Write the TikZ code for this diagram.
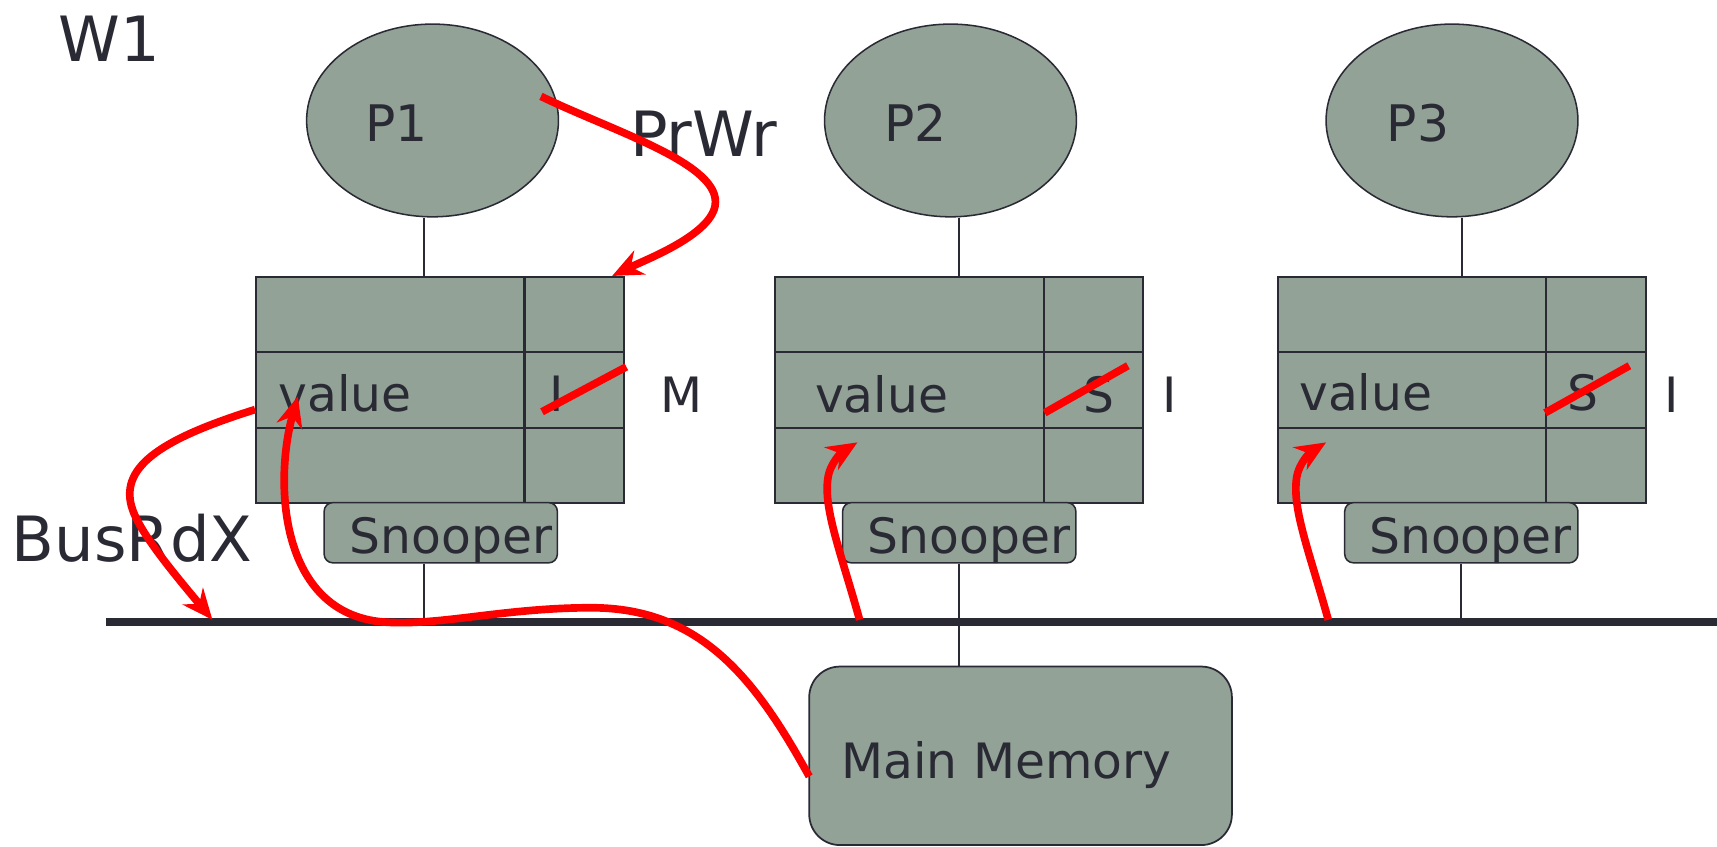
\documentclass[tikz,border=0pt]{standalone}
\usepackage{fontspec}
\setmainfont{DejaVu Sans}
\usetikzlibrary{shapes.geometric,arrows.meta,calc}
\definecolor{cachegray}{RGB}{146,162,151}
\definecolor{ink}{RGB}{42,42,53}
\tikzset{
	proc/.style={ellipse,fill=cachegray,draw=ink,line width=0.7pt,minimum width=115pt,minimum height=88pt,inner sep=0pt},
	cache/.style={rectangle,fill=cachegray,draw=ink,line width=1pt,minimum width=168pt,minimum height=103pt,inner sep=0pt},
	snoop/.style={rectangle,rounded corners=4pt,fill=cachegray,draw=ink,line width=0.7pt,minimum width=106.5pt,minimum height=27.5pt,inner sep=0pt},
	mem/.style={rectangle,rounded corners=14pt,fill=cachegray,draw=ink,line width=0.8pt,minimum width=193pt,minimum height=81.5pt,inner sep=0pt},
	txt/.style={anchor=base west,inner sep=0pt,text=ink,font=\fontsize{22.25}{26}\selectfont},
	ptxt/.style={txt,font=\fontsize{23}{27}\selectfont},
	big/.style={txt,font=\fontsize{28.5}{34}\selectfont},
	wire/.style={draw=ink,line width=0.8pt},
	cellline/.style={draw=ink,line width=1pt},
	bus/.style={draw=ink,line width=4pt},
	flow/.style={draw=red,line width=3.5pt,-{Stealth[length=14pt,width=12pt]}},
	strike/.style={draw=red,line width=3.5pt},
}
\begin{document}
\begin{tikzpicture}[x=0.5pt,y=-0.5pt]
\useasboundingbox (0,0) rectangle (1568,772.6);
% PROCESSORI
\node[proc] (p1) at (395,110) {};
\node[proc] (p2) at (868,110) {};
\node[proc] (p3) at (1326,110) {};
\node[ptxt] (p1l) at (333,129) {P1};
\node[ptxt] (p2l) at (807,129) {P2};
\node[ptxt] (p3l) at (1266,129) {P3};
% CACHE
\node[cache] (c1) at (402,356) {};
\node[cache] (c2) at (876,356) {};
\node[cache] (c3) at (1335,356) {};
\foreach \c in {c1,c2,c3}{
	\draw[cellline] ($(\c.north west)!1/3!(\c.south west)$) -- ($(\c.north east)!1/3!(\c.south east)$);
	\draw[cellline] ($(\c.north west)!2/3!(\c.south west)$) -- ($(\c.north east)!2/3!(\c.south east)$);
	\draw[cellline] ($(\c.north west)!0.728!(\c.north east)$) -- ($(\c.south west)!0.728!(\c.south east)$);
}
% SNOOPER
\node[snoop] (s1) at (402.5,486.5) {};
\node[snoop] (s2) at (876,486.5) {};
\node[snoop] (s3) at (1334.5,486.5) {};
\node[txt] (s1l) at (319,505) {Snooper};
\node[txt] (s2l) at (792,505) {Snooper};
\node[txt] (s3l) at (1250,505) {Snooper};
% BUS E MEMORIA
\coordinate (busL) at (97,568);
\coordinate (busR) at (1568,568);
\coordinate (w1) at (387,0);
\node[mem] (mm) at (932,690.2) {};
\node[txt] (mml) at (768,711) {Main Memory};
\draw[wire] (w1 |- p1.south) -- (w1 |- c1.north);
\draw[wire] (w1 |- s1.south) -- (w1 |- busL);
\draw[wire] (c2.north |- p2.south) -- (c2.north);
\draw[wire] (s2.south) -- (s2.south |- mm.north);
\draw[wire] (c3.north |- p3.south) -- (c3.north);
\draw[wire] (s3.south) -- (s3.south |- busL);
\draw[bus] (busL) -- (busR);
% ETICHETTE
\node[big] (w1l) at (53,56) {W1};
\node[big] (prwr) at (575,143) {PrWr};
\node[big] (busrdx) at (10.5,513) {BusRdX};
\node[txt] (v1) at (254,376) {value};
\node[txt] (v2) at (744,377) {value};
\node[txt] (v3) at (1186,375) {value};
\node[txt] (st1) at (501,376) {I};
\node[txt] (st2) at (989,377) {S};
\node[txt] (st3) at (1431,375) {S};
\node[txt] (nw1) at (603,377) {M};
\node[txt] (nw2) at (1061,377) {I};
\node[txt] (nw3) at (1520,377) {I};
% FRECCE ROSSE
\coordinate (wr0) at (494,88);
\coordinate (wr1) at (559,252);
\coordinate (rdx0) at (233,374);
\coordinate (rdx1) at (194,566);
\coordinate (mem0) at (739,709);
\coordinate (val1) at (272,362);
\coordinate (b2) at (785,566);
\coordinate (t2) at (783,404);
\coordinate (b3) at (1213,566);
\coordinate (t3) at (1211,404);
\draw[strike] (495,376) -- (572,335);
\draw[strike] (954,377) -- (1030,334);
\draw[strike] (1411,377) -- (1488,334);
\draw[flow] (wr0) .. controls (560,120) and (660,150) .. (653,188) .. controls (648,215) and (590,237) .. (wr1);
\draw[flow] (rdx0) .. controls (150,400) and (110,425) .. (120,462) .. controls (126,485) and (160,525) .. (rdx1);
\draw[flow] (mem0) .. controls (690,620) and (640,555) .. (540,555) .. controls (460,555) and (400,572) .. (350,568) .. controls (255,560) and (250,440) .. (val1);
\draw[flow] (b2) .. controls (768,505) and (752,465) .. (756,437) .. controls (758,422) and (770,412) .. (t2);
\draw[flow] (b3) .. controls (1196,505) and (1180,465) .. (1184,437) .. controls (1186,422) and (1198,412) .. (t3);
\end{tikzpicture}
\end{document}
